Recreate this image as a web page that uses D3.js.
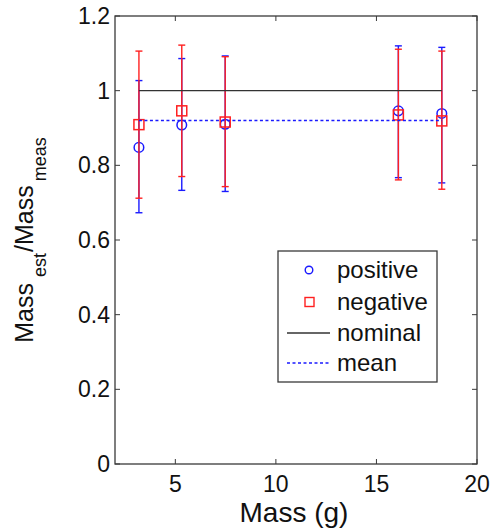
<!DOCTYPE html>
<html>
<meta charset='utf-8'>
<head>
<title>Mass ratio</title>
<script src='https://d3js.org/d3.v7.min.js'></script>
<style>
  body { margin: 0; background: #fff; }
  text { font-family: 'Liberation Sans', Arial, sans-serif; fill: #111; }
</style>
</head>
<body>
<div id='my_dataviz'></div>
<script>

// values
var mass   = [3.19, 5.32, 7.48, 16.09, 18.25]
var posVal = [0.848, 0.908, 0.91, 0.946, 0.939]
var posLo  = [0.673, 0.733, 0.730, 0.767, 0.753]
var posHi  = [1.027, 1.086, 1.093, 1.120, 1.116]
var negVal = [0.909, 0.946, 0.916, 0.935, 0.919]
var negLo  = [0.712, 0.770, 0.743, 0.761, 0.736]
var negHi  = [1.106, 1.122, 1.091, 1.111, 1.106]
var nominal = 1.0
var meanVal = 0.92
var xTicks = [5, 10, 15, 20]
var yTicks = [0, 0.2, 0.4, 0.6, 0.8, 1, 1.2]
var legendLabels = ['positive', 'negative', 'nominal', 'mean']

var margin = {top: 16, right: 20, bottom: 67, left: 115},
    width = 497 - margin.left - margin.right,
    height = 531 - margin.top - margin.bottom;

var svg = d3.select('#my_dataviz')
    .append('svg')
    .attr('width', 497)
    .attr('height', 531)
    .append('g')
    .attr('transform', 'translate(' + margin.left + ',' + margin.top + ')');

var x = d3.scaleLinear().domain([2, 20]).range([0, width])
var y = d3.scaleLinear().domain([0, 1.2]).range([height, 0])

var axisCol = '#3a3a3a'
var tl = 5

// box + inward ticks on all sides (matlab style)
svg.append('rect')
    .attr('width', width).attr('height', height)
    .attr('fill', 'none').attr('stroke', axisCol).attr('stroke-width', 1.3)

svg.append('g').selectAll('line').data(xTicks).enter().append('line')
    .attr('x1', d => x(d)).attr('x2', d => x(d))
    .attr('y1', height).attr('y2', height - tl)
    .attr('stroke', axisCol)
svg.append('g').selectAll('line').data(xTicks).enter().append('line')
    .attr('x1', d => x(d)).attr('x2', d => x(d))
    .attr('y1', 0).attr('y2', tl)
    .attr('stroke', axisCol)
svg.append('g').selectAll('line').data(yTicks).enter().append('line')
    .attr('x1', 0).attr('x2', tl)
    .attr('y1', d => y(d)).attr('y2', d => y(d))
    .attr('stroke', axisCol)
svg.append('g').selectAll('line').data(yTicks).enter().append('line')
    .attr('x1', width).attr('x2', width - tl)
    .attr('y1', d => y(d)).attr('y2', d => y(d))
    .attr('stroke', axisCol)

svg.append('g').selectAll('text').data(xTicks).enter().append('text')
    .attr('x', d => x(d)).attr('y', height + 28)
    .attr('text-anchor', 'middle')
    .attr('font-size', 23)
    .text(d => d)
svg.append('g').selectAll('text').data(yTicks).enter().append('text')
    .attr('x', -5).attr('y', d => y(d) + 8)
    .attr('text-anchor', 'end')
    .attr('font-size', 23)
    .text(d => d)

// axis labels
svg.append('text')
    .attr('x', width / 2 - 2).attr('y', height + 58)
    .attr('text-anchor', 'middle')
    .attr('font-size', 28)
    .text('Mass (g)')

var yl = svg.append('text')
    .attr('transform', 'translate(' + (33 - margin.left) + ',' + (height / 2) + ') rotate(-90)')
    .attr('text-anchor', 'middle')
    .attr('font-size', 25)
yl.append('tspan').text('Mass')
yl.append('tspan').attr('dy', 13).attr('dx', 6).attr('font-size', 18).text('est')
yl.append('tspan').attr('dy', -13).attr('dx', 1).text('/Mass')
yl.append('tspan').attr('dy', 13).attr('dx', 4).attr('font-size', 18).text('meas')

// error bars
function errorBars(lo, hi, col) {
    var g = svg.append('g').attr('stroke', col).attr('stroke-width', 1.4)
    mass.forEach(function(m, i) {
        g.append('line').attr('x1', x(m)).attr('x2', x(m))
            .attr('y1', y(lo[i])).attr('y2', y(hi[i]))
        g.append('line').attr('x1', x(m) - 3.5).attr('x2', x(m) + 3.5)
            .attr('y1', y(lo[i])).attr('y2', y(lo[i]))
        g.append('line').attr('x1', x(m) - 3.5).attr('x2', x(m) + 3.5)
            .attr('y1', y(hi[i])).attr('y2', y(hi[i]))
    })
}

errorBars(posLo, posHi, '#1a1aff')
svg.append('g').selectAll('circle').data(mass).enter().append('circle')
    .attr('cx', d => x(d)).attr('cy', (d, i) => y(posVal[i]))
    .attr('r', 4.8)
    .attr('fill', 'none').attr('stroke', '#1a1aff').attr('stroke-width', 1.5)

errorBars(negLo, negHi, '#ff2020')
svg.append('g').selectAll('rect').data(mass).enter().append('rect')
    .attr('x', d => x(d) - 5).attr('y', (d, i) => y(negVal[i]) - 5)
    .attr('width', 10).attr('height', 10)
    .attr('fill', 'none').attr('stroke', '#ff2020').attr('stroke-width', 1.5)

var ext = d3.extent(mass)
svg.append('line')
    .attr('x1', x(ext[0])).attr('x2', x(ext[1]))
    .attr('y1', y(nominal)).attr('y2', y(nominal))
    .attr('stroke', '#333').attr('stroke-width', 1.4)
svg.append('line')
    .attr('x1', x(ext[0])).attr('x2', x(ext[1]))
    .attr('y1', y(meanVal)).attr('y2', y(meanVal))
    .attr('stroke', '#1a1aff').attr('stroke-width', 1.4)
    .attr('stroke-dasharray', '3,2.5')

// legend
var lg = svg.append('g').attr('transform', 'translate(' + (278 - margin.left) + ',' + (251 - margin.top) + ')')
lg.append('rect').attr('width', 159).attr('height', 131)
    .attr('fill', '#fff').attr('stroke', axisCol).attr('stroke-width', 1.3)
var rowY = [19, 51, 82, 112]
lg.selectAll('text.lab').data(legendLabels).enter().append('text')
    .attr('class', 'lab')
    .attr('x', 59).attr('y', (d, i) => rowY[i] + 8)
    .attr('font-size', 24)
    .text(d => d)
lg.append('circle').attr('cx', 31).attr('cy', rowY[0]).attr('r', 3.8)
    .attr('fill', 'none').attr('stroke', '#1a1aff').attr('stroke-width', 1.4)
lg.append('rect').attr('x', 27).attr('y', rowY[1] - 4.5).attr('width', 9).attr('height', 9)
    .attr('fill', 'none').attr('stroke', '#ff2020').attr('stroke-width', 1.4)
lg.append('line').attr('x1', 9).attr('x2', 52).attr('y1', rowY[2]).attr('y2', rowY[2])
    .attr('stroke', '#333').attr('stroke-width', 1.4)
lg.append('line').attr('x1', 9).attr('x2', 52).attr('y1', rowY[3]).attr('y2', rowY[3])
    .attr('stroke', '#1a1aff').attr('stroke-width', 1.4).attr('stroke-dasharray', '3,2.5')

</script>
</body>
</html>
